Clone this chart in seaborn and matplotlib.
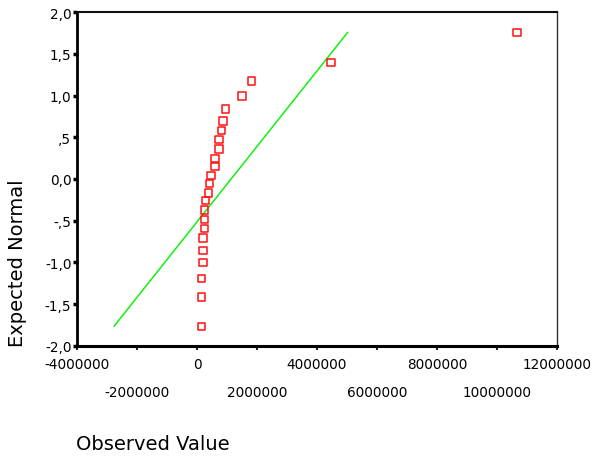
import numpy as np
import pandas as pd
import matplotlib.pyplot as plt
import seaborn as sns
from matplotlib.ticker import FixedLocator, FixedFormatter

observed = [157000, 157000, 157000, 200000, 200000, 200000, 243000, 243000,
            243000, 290000, 377000, 423000, 467000, 600000, 600000, 733000,
            733000, 823000, 867000, 957000, 1500000, 1810000, 4467000, 10667000]
expected = [-1.764, -1.413, -1.189, -1.002, -0.854, -0.707, -0.595, -0.483,
            -0.371, -0.257, -0.168, -0.056, 0.040, 0.152, 0.248, 0.359,
            0.471, 0.583, 0.695, 0.838, 0.994, 1.174, 1.398, 1.757]

# reference line (normal fit) end points
line_x = [-2767000, 5023000]
line_y = [-1.764, 1.757]

x_major = [-4000000, 0, 4000000, 8000000, 12000000]
x_minor = [-2000000, 2000000, 6000000, 10000000]
y_ticks = [2.0, 1.5, 1.0, 0.5, 0.0, -0.5, -1.0, -1.5, -2.0]
y_labels = ["2,0", "1,5", "1,0", ",5", "0,0", "-,5", "-1,0", "-1,5", "-2,0"]

points = pd.DataFrame({"observed": observed, "expected": expected})
fit = pd.DataFrame({"x": line_x, "y": line_y})

sns.set_style("white")
plt.rcParams["font.family"] = ["DejaVu Sans"]

fig = plt.figure(figsize=(6.05, 4.6), dpi=100)
ax = fig.add_axes([0.1273, 0.2457, 0.7934, 0.726])

sns.lineplot(data=fit, x="x", y="y", color="#11f011", linewidth=1.1,
             estimator=None, sort=False, ax=ax)
sns.scatterplot(data=points, x="observed", y="expected", marker="s", s=26,
                facecolor="none", edgecolor="#ff1010", linewidth=1.1, ax=ax,
                zorder=3)

ax.set_xlim(-4000000, 12000000)
ax.set_ylim(-2.0, 2.0)
ax.set_xlabel("")
ax.set_ylabel("")

ax.xaxis.set_major_locator(FixedLocator(x_major))
ax.xaxis.set_major_formatter(FixedFormatter([str(v) for v in x_major]))
ax.xaxis.set_minor_locator(FixedLocator(x_minor))
ax.xaxis.set_minor_formatter(FixedFormatter([str(v) for v in x_minor]))
ax.set_yticks(y_ticks)
ax.set_yticklabels(y_labels)

ax.tick_params(axis="x", which="major", direction="out", length=3, width=1.5,
               color="#222222", labelsize=9.8, labelcolor="black", pad=5,
               bottom=True)
ax.tick_params(axis="x", which="minor", direction="out", length=3, width=1.5,
               color="#222222", labelsize=9.8, labelcolor="black", pad=25,
               bottom=True)
ax.tick_params(axis="y", direction="out", length=3, width=2.5, color="black",
               labelsize=9.8, labelcolor="black", pad=1, left=True)

for side, lw, col in [("left", 2.0, "black"), ("bottom", 2.2, "black"),
                      ("top", 1.5, "#111111"), ("right", 1.0, "#333333")]:
    ax.spines[side].set_linewidth(lw)
    ax.spines[side].set_color(col)
    ax.spines[side].set_visible(True)

fig.text(18 / 605, 1 - 263.5 / 460, "Expected Normal", rotation=90,
         ha="center", va="center", fontsize=14, color="black")
fig.text(76 / 605, 1 - 445 / 460, "Observed Value", ha="left", va="center",
         fontsize=14, color="black")

fig.savefig("out.png", dpi=100)
